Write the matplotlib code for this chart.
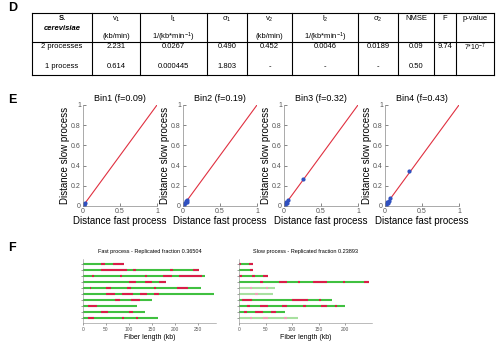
import matplotlib
matplotlib.use("Agg")
import matplotlib.pyplot as plt

plt.rcParams['font.family'] = ['Liberation Sans', 'DejaVu Sans']
plt.rcParams['mathtext.fontset'] = 'custom'
plt.rcParams['mathtext.rm'] = 'Liberation Sans'
plt.rcParams['mathtext.it'] = 'Liberation Sans'

W, H = 500, 343

# --- table D ---
col_edges = [32, 92, 140, 207, 247, 292, 358, 398, 434, 456, 494]
head_top = ['S.', r'v$_1$', r'l$_1$', r'$\sigma_1$', r'v$_2$', r'l$_2$', r'$\sigma_2$', 'NMSE', 'F', 'p-value']
head_unit = ['cerevisiae', '(kb/min)', r'1/(kb*min$^{-1}$)', '', '(kb/min)', r'1/(kb*min$^{-1}$)', '', '', '', '']
row_2proc = ['2 processes', '2.231', '0.0267', '0.490', '0.452', '0.0046', '0.0189', '0.09', '9.74', r'7*10$^{-7}$']
row_1proc = ['1 process', '0.614', '0.000445', '1.803', '-', '-', '-', '0.50', '', '']

# --- panel E ---
bins = ['Bin1 (f=0.09)', 'Bin2 (f=0.19)', 'Bin3 (f=0.32)', 'Bin4 (f=0.43)']
fast_dist = [
    [0.0, 0.005, 0.01, 0.015, 0.02, 0.03],
    [0.0, 0.005, 0.01, 0.02, 0.03, 0.04, 0.05, 0.06],
    [0.0, 0.01, 0.02, 0.03, 0.04, 0.05, 0.25],
    [0.0, 0.01, 0.02, 0.03, 0.04, 0.06, 0.07, 0.33],
]
slow_dist = [
    [0.0, 0.01, 0.005, 0.02, 0.015, 0.03],
    [0.0, 0.01, 0.02, 0.015, 0.03, 0.05, 0.04, 0.06],
    [0.0, 0.02, 0.01, 0.04, 0.03, 0.06, 0.27],
    [0.0, 0.02, 0.01, 0.04, 0.03, 0.05, 0.08, 0.35],
]

# --- panel F: fiber lengths (kb) and replicated (red) stretches ---
fast_len = [89, 254, 265, 181, 257, 286, 150, 118, 135, 164]
fast_red = [
    [(40, 48), (65, 89)],
    [(40, 95), (110, 115), (190, 197), (240, 254)],
    [(20, 23), (80, 85), (135, 140), (175, 195), (210, 260)],
    [(100, 115), (135, 150), (165, 181)],
    [(15, 18), (50, 62), (95, 105), (155, 160), (205, 230)],
    [(50, 70), (85, 110), (125, 140), (155, 165)],
    [(70, 80), (105, 125)],
    [(10, 30)],
    [(40, 55), (100, 110)],
    [(10, 25), (85, 90), (115, 120)],
]
slow_len = [27, 27, 55, 245, 67, 64, 174, 199, 86, 111]
slow_red = [
    [(0, 3), (18, 27)],
    [(20, 27)],
    [(0, 5), (25, 30), (45, 55)],
    [(40, 45), (75, 90), (110, 115), (140, 165), (195, 200), (235, 245)],
    [(20, 25), (50, 55)],
    [(30, 35)],
    [(5, 25), (100, 130), (150, 155)],
    [(15, 20), (40, 55), (80, 90), (120, 125), (155, 165), (180, 185)],
    [(10, 15), (30, 45), (60, 70)],
    [(20, 25), (45, 55), (85, 90)],
]
slow_faded = [False, False, False, False, True, True, False, False, False, True]


def px_axes(fig, left, top, right, bottom):
    # axes placed by pixel box (top-left origin)
    return fig.add_axes([left / W, 1 - bottom / H, (right - left) / W, (bottom - top) / H])


def draw_table(fig):
    ax = fig.add_axes([0, 0, 1, 1])
    ax.set_xlim(0, W)
    ax.set_ylim(H, 0)
    ax.axis('off')
    top, mid, bot = 13, 42, 75
    lc = dict(color='black', lw=0.8)
    ax.plot([col_edges[0], col_edges[-1]], [top, top], **lc)
    ax.plot([col_edges[0], col_edges[-1]], [mid, mid], **lc)
    ax.plot([col_edges[0], col_edges[-1]], [bot, bot], **lc)
    for x in col_edges:
        ax.plot([x, x], [top, bot], **lc)
    fs = 5.5
    for i in range(len(head_top)):
        xc = (col_edges[i] + col_edges[i + 1]) / 2
        if i == 0:
            ax.text(xc, 19, head_top[i], ha='center', va='center', fontsize=fs, fontweight='bold')
            ax.text(xc, 28, head_unit[i], ha='center', va='center', fontsize=fs, fontweight='bold', style='italic')
        else:
            ax.text(xc, 19, head_top[i], ha='center', va='center', fontsize=fs)
            ax.text(xc, 37, head_unit[i], ha='center', va='center', fontsize=fs)
        cell_fs = 5 if i == len(head_top) - 1 else fs
        ax.text(xc, 47, row_2proc[i], ha='center', va='center', fontsize=cell_fs)
        ax.text(xc, 67, row_1proc[i], ha='center', va='center', fontsize=fs)
    ax.text(8, 8, 'D', fontsize=9, fontweight='bold', ha='left', va='center')
    ax.text(8, 100, 'E', fontsize=9, fontweight='bold', ha='left', va='center')
    ax.text(8, 248, 'F', fontsize=9, fontweight='bold', ha='left', va='center')


def draw_bins(fig):
    lefts = [83, 183, 284, 385]
    for k in range(4):
        ax = px_axes(fig, lefts[k], 105, lefts[k] + 74, 206)
        ax.plot([0, 1], [0, 1], color='#e03040', lw=0.8)
        ax.plot(fast_dist[k], slow_dist[k], '.', color='#3050c0', ms=4)
        ax.set_xlim(0, 1)
        ax.set_ylim(0, 1)
        ax.set_xticks([0, 0.5, 1])
        ax.set_xticklabels(['0', '0.5', '1'])
        ax.set_yticks([0, 0.2, 0.4, 0.6, 0.8, 1])
        ax.set_yticklabels(['0', '0.2', '0.4', '0.6', '0.8', '1'])
        ax.tick_params(labelsize=5, length=2, width=0.5, direction='in', pad=1.5, colors='#555555')
        for s in ['top', 'right']:
            ax.spines[s].set_visible(False)
        for s in ['left', 'bottom']:
            ax.spines[s].set_linewidth(0.5)
            ax.spines[s].set_color('#888888')
        ax.set_title(bins[k], fontsize=6.5, pad=3)
        ax.set_xlabel('Distance fast process', fontsize=7, labelpad=1)
        ax.set_ylabel('Distance slow process', fontsize=7, labelpad=1)


def draw_fibers(ax, lengths, reds, faded, title, xmax, ticks):
    for i in range(len(lengths)):
        g, r = ('#a8e0a0', '#f0a0b8') if faded[i] else ('#40c040', '#d81e48')
        ax.hlines(i + 1, 0, lengths[i], color=g, lw=1.5)
        for a, b in reds[i]:
            ax.hlines(i + 1, a, b, color=r, lw=1.5)
    ax.set_xlim(0, xmax)
    ax.set_ylim(10.83, 0.17)
    ax.set_xticks(ticks)
    ax.set_yticks(range(1, 11))
    ax.set_yticklabels([])
    ax.tick_params(labelsize=3.5, length=1.5, width=0.4, pad=1.5, colors='#555555')
    for s in ['top', 'right']:
        ax.spines[s].set_visible(False)
    for s in ['left', 'bottom']:
        ax.spines[s].set_linewidth(0.4)
        ax.spines[s].set_color('#888888')
    ax.set_title(title, fontsize=4, pad=4)
    ax.set_xlabel('Fiber length (kb)', fontsize=5, labelpad=1)


fig = plt.figure(figsize=(5, 3.43), dpi=100)
draw_table(fig)
draw_bins(fig)
ax1 = px_axes(fig, 83, 259, 216, 323)
draw_fibers(ax1, fast_len, fast_red, [False] * 10,
            'Fast process - Replicated fraction 0.36504', 290, [0, 50, 100, 150, 200, 250])
ax2 = px_axes(fig, 239, 259, 372, 323)
draw_fibers(ax2, slow_len, slow_red, slow_faded,
            'Slow process - Replicated fraction 0.23893', 250, [0, 50, 100, 150, 200])
fig.savefig('out.png', dpi=100)
